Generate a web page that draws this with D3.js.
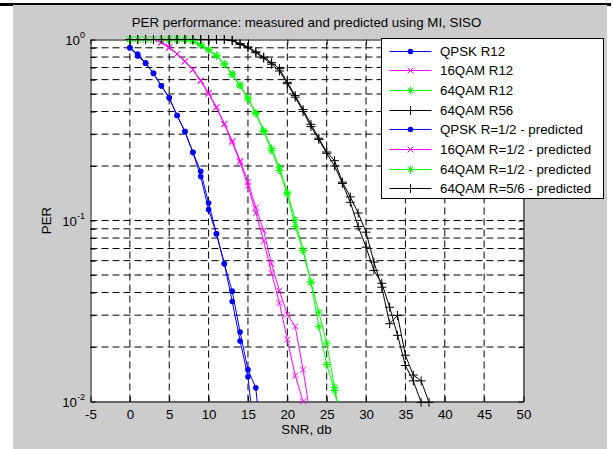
<!DOCTYPE html>
<html>
<head>
<meta charset="utf-8">
<script src="https://cdn.jsdelivr.net/npm/d3@7"></script>
<style>
  body { margin: 0; background: #fff; }
  svg text { font-family: "Liberation Sans", Arial, Helvetica, sans-serif; }
</style>
</head>
<body>
<script>
// values (SNR in dB, PER)
var snrQpsk = [0, 1, 2, 3, 4, 5, 6, 7, 8, 9, 10, 11, 12, 13, 14, 15, 16, 17];
var perQpskMeasured = [0.90, 0.83, 0.74, 0.65, 0.555, 0.476, 0.38, 0.31, 0.238, 0.187, 0.125, 0.0844, 0.0576, 0.0407, 0.0242, 0.0150, 0.0119, 0.0042];
var snrQpskPred = [0, 1, 2, 3, 4, 5, 6, 7, 8, 9, 10, 11, 12, 13, 14, 15, 16];
var perQpskPredicted = [0.90, 0.81, 0.74, 0.65, 0.555, 0.476, 0.38, 0.31, 0.238, 0.175, 0.115, 0.0844, 0.0576, 0.0357, 0.0216, 0.0137, 0.0055];

var snr16 = [3, 4, 5, 6, 7, 8, 9, 10, 11, 12, 13, 14, 15, 16, 17, 18, 19, 20, 21, 22, 23];
var per16Measured = [1.0, 0.97, 0.907, 0.833, 0.759, 0.683, 0.594, 0.507, 0.423, 0.342, 0.275, 0.214, 0.163, 0.118, 0.088, 0.0576, 0.041, 0.0302, 0.026, 0.015, 0.008];
var per16Predicted = [1.0, 0.96, 0.90, 0.83, 0.755, 0.68, 0.59, 0.50, 0.42, 0.34, 0.27, 0.21, 0.156, 0.110, 0.077, 0.0512, 0.035, 0.022, 0.0139, 0.0100, 0.0062];

var snr64 = [0, 1, 2, 3, 4, 5, 6, 7, 8, 9, 10, 11, 12, 13, 14, 15, 16, 17, 18, 19, 20, 21, 22, 23, 24, 25, 26, 27];
var per64r12Measured = [1, 1, 1, 1, 1, 1, 1, 1, 0.985, 0.938, 0.88, 0.819, 0.734, 0.646, 0.56, 0.476, 0.394, 0.314, 0.25, 0.197, 0.143, 0.1008, 0.0683, 0.0457, 0.0312, 0.021, 0.012, 0.007];
var per64r12Predicted = [1, 1, 1, 1, 1, 1, 1, 1, 0.98, 0.93, 0.875, 0.81, 0.73, 0.64, 0.555, 0.47, 0.39, 0.31, 0.244, 0.189, 0.14, 0.0927, 0.0683, 0.0456, 0.026, 0.016, 0.0115, 0.0068];

var snrR56 = [0, 1, 2, 3, 4, 5, 6, 7, 8, 9, 10, 11, 12, 13, 14, 15, 16, 17, 18, 19, 20, 21, 22, 23, 24, 25, 26, 27, 28, 29, 30, 31, 32, 33, 34, 35, 36, 37, 38];
var perR56Measured = [1, 1, 1, 1, 1, 1, 1, 1, 1, 1, 1, 1, 1, 0.99, 0.95, 0.91, 0.855, 0.80, 0.745, 0.69, 0.58, 0.49, 0.41, 0.34, 0.285, 0.239, 0.214, 0.163, 0.135, 0.110, 0.0862, 0.0589, 0.0428, 0.0269, 0.0299, 0.018, 0.014, 0.013, 0.0099];
var snrR56Pred = [0, 1, 2, 3, 4, 5, 6, 7, 8, 9, 10, 11, 12, 13, 14, 15, 16, 17, 18, 19, 20, 21, 22, 23, 24, 25, 26, 27, 28, 29, 30, 31, 32, 33, 34, 35, 36, 37];
var perR56Predicted = [1, 1, 1, 1, 1, 1, 1, 1, 1, 1, 1, 1, 1, 0.985, 0.94, 0.90, 0.845, 0.79, 0.73, 0.67, 0.57, 0.48, 0.40, 0.33, 0.28, 0.235, 0.20, 0.16, 0.126, 0.0927, 0.0712, 0.053, 0.045, 0.0332, 0.0232, 0.0158, 0.013, 0.0099];

var legendNames = ["QPSK R12", "16QAM R12", "64QAM R12", "64QAM R56",
                   "QPSK R=1/2 - predicted", "16QAM R=1/2 - predicted",
                   "64QAM R=1/2 - predicted", "64QAM R=5/6 - predicted"];
var xTicks = [-5, 0, 5, 10, 15, 20, 25, 30, 35, 40, 45, 50];
var yMajors = [0.01, 0.1, 1];
var yExponents = ["-2", "-1", "0"];

// same order as the legend
var series = [
  {x: snrQpsk,     y: perQpskMeasured,   color: "#0000ff", marker: "dot"},
  {x: snr16,       y: per16Measured,     color: "#ff00ff", marker: "x"},
  {x: snr64,       y: per64r12Measured,  color: "#00ff00", marker: "star"},
  {x: snrR56,      y: perR56Measured,    color: "#000000", marker: "plus"},
  {x: snrQpskPred, y: perQpskPredicted,  color: "#0000ff", marker: "dot"},
  {x: snr16,       y: per16Predicted,    color: "#ff00ff", marker: "x"},
  {x: snr64,       y: per64r12Predicted, color: "#00ff00", marker: "star"},
  {x: snrR56Pred,  y: perR56Predicted,   color: "#000000", marker: "plus"}
];
series.forEach(function(s, i) {
  s.name = legendNames[i];
  s.points = s.x.map(function(v, j) { return {snr: v, per: s.y[j]}; });
});

var W = 613, H = 449,
    plot = {left: 90, right: 523, top: 39, bottom: 401};

var svg = d3.select("body").append("svg")
            .attr("width", W)
            .attr("height", H);

// figure background (grey window with a dark strip on top)
svg.append("rect").attr("x", 0).attr("y", 3).attr("width", 611).attr("height", 3).attr("fill", "#000");
svg.append("rect").attr("x", 13).attr("y", 5).attr("width", 594).attr("height", H - 5).attr("fill", "#cccccc");

var x = d3.scaleLinear().domain([-5, 50]).range([plot.left + 0.5, plot.right + 0.5]);
var y = d3.scaleLog().domain([0.01, 1]).range([plot.bottom + 0.5, plot.top + 0.5]);
var yTicks = y.ticks();

svg.append("rect")
   .attr("x", plot.left).attr("y", plot.top)
   .attr("width", plot.right - plot.left).attr("height", plot.bottom - plot.top)
   .attr("fill", "#fff");

// dashed grid
var grid = svg.append("g").attr("stroke", "#000").attr("stroke-width", 1).attr("stroke-dasharray", "7,4");
grid.selectAll(".vg").data(xTicks.slice(1, -1)).enter().append("line")
    .attr("x1", function(d) { return x(d); }).attr("x2", function(d) { return x(d); })
    .attr("y1", y(0.01)).attr("y2", y(1));
grid.selectAll(".hg").data(yTicks.filter(function(d) { return d > 0.01 && d < 1; })).enter().append("line")
    .attr("x1", x(-5)).attr("x2", x(50))
    .attr("y1", function(d) { return y(d); }).attr("y2", function(d) { return y(d); });

// axes: ticks point inwards, labels only bottom/left
var fontSize = 13.3;
var xAxis = svg.append("g")
   .attr("transform", "translate(0," + y(0.01) + ")")
   .call(d3.axisBottom(x).tickValues(xTicks).tickSize(-5).tickSizeOuter(0).tickPadding(8)
           .tickFormat(function(d) { return String(d); }));
xAxis.selectAll("text").attr("font-size", fontSize).attr("font-family", null).attr("fill", "#000");

svg.append("g")
   .attr("transform", "translate(0," + y(1) + ")")
   .call(d3.axisTop(x).tickValues(xTicks).tickSize(-5).tickSizeOuter(0).tickFormat(""));

svg.append("g")
   .attr("transform", "translate(" + x(-5) + ",0)")
   .call(d3.axisLeft(y).tickValues(yTicks).tickSize(-5).tickSizeOuter(0).tickFormat(""));

svg.append("g")
   .attr("transform", "translate(" + x(50) + ",0)")
   .call(d3.axisRight(y).tickValues(yTicks).tickSize(-5).tickSizeOuter(0).tickFormat(""));

svg.selectAll(".domain, .tick line").attr("stroke", "#000");

// y labels as 10 with a raised exponent
var yLab = svg.selectAll(".ylab").data(yMajors).enter().append("text")
   .attr("x", plot.left - 5)
   .attr("y", function(d) { return y(d) + 5; })
   .attr("text-anchor", "end")
   .attr("font-size", fontSize);
yLab.append("tspan").text("10");
yLab.append("tspan")
    .attr("dy", -7)
    .attr("font-size", 9)
    .text(function(d, i) { return yExponents[i]; });

// data lines, clipped to the axes
svg.append("clipPath").attr("id", "clip")
   .append("rect")
   .attr("x", plot.left).attr("y", plot.top)
   .attr("width", plot.right - plot.left + 1).attr("height", plot.bottom - plot.top + 1);

var line = d3.line()
             .x(function(d) { return x(d.snr); })
             .y(function(d) { return y(d.per); });

var markerPath = function(kind) {
  var p = d3.path();
  if (kind == "plus") {
    p.moveTo(-4.5, 0); p.lineTo(4.5, 0); p.moveTo(0, -4.5); p.lineTo(0, 4.5);
  } else if (kind == "x") {
    p.moveTo(-3, -3); p.lineTo(3, 3); p.moveTo(-3, 3); p.lineTo(3, -3);
  } else if (kind == "star") {
    p.moveTo(-4, 0); p.lineTo(4, 0); p.moveTo(0, -4); p.lineTo(0, 4);
    p.moveTo(-2.9, -2.9); p.lineTo(2.9, 2.9); p.moveTo(-2.9, 2.9); p.lineTo(2.9, -2.9);
  }
  return p.toString();
};

var drawMarkers = function(g, s, pts, px, py) {
  if (s.marker == "dot") {
    g.selectAll("circle").data(pts).enter().append("circle")
     .attr("cx", px)
     .attr("cy", py)
     .attr("r", 2.8)
     .attr("fill", s.color);
  } else {
    g.selectAll("path").data(pts).enter().append("path")
     .attr("transform", function(d) { return "translate(" + px(d) + "," + py(d) + ")"; })
     .attr("d", markerPath(s.marker))
     .attr("fill", "none")
     .attr("stroke", s.color);
  }
};

series.forEach(function(s) {
  var g = svg.append("g");
  g.append("path")
   .datum(s.points)
   .attr("clip-path", "url(#clip)")
   .attr("fill", "none")
   .attr("stroke", s.color)
   .attr("stroke-width", 1)
   .attr("d", line);
  var inside = s.points.filter(function(d) { return d.per >= 0.0098 && d.per <= 1; });
  drawMarkers(g.append("g"), s, inside,
              function(d) { return x(d.snr); },
              function(d) { return y(d.per); });
});

// titles
svg.append("text")
   .attr("x", (plot.left + plot.right) / 2)
   .attr("y", 27)
   .attr("text-anchor", "middle")
   .attr("font-size", fontSize)
   .text("PER performance: measured and predicted using MI, SISO");

svg.append("text")
   .attr("x", (plot.left + plot.right) / 2)
   .attr("y", 434)
   .attr("text-anchor", "middle")
   .attr("font-size", fontSize)
   .text("SNR, db");

svg.append("text")
   .attr("transform", "translate(51," + y(0.1) + ") rotate(-90)")
   .attr("text-anchor", "middle")
   .attr("font-size", fontSize)
   .text("PER");

// legend box, sticks out to the right of the axes
var legend = svg.append("g").attr("transform", "translate(381.5,38.5)");
legend.append("rect")
      .attr("width", 222).attr("height", 160)
      .attr("fill", "#fff").attr("stroke", "#000");

var items = legend.selectAll(".item").data(series).enter().append("g")
      .attr("transform", function(d, i) { return "translate(0," + Math.round(12.5 + i * 19.7) + ")"; });

items.append("line")
     .attr("x1", 8).attr("x2", 50)
     .attr("stroke", function(d) { return d.color; });
items.each(function(s) {
  drawMarkers(d3.select(this).append("g"), s, [s.name],
              function() { return 29; },
              function() { return 0; });
});

items.append("text")
     .attr("x", 58.5)
     .attr("y", 4.5)
     .attr("font-size", fontSize)
     .text(function(d) { return d.name; });
</script>
</body>
</html>
